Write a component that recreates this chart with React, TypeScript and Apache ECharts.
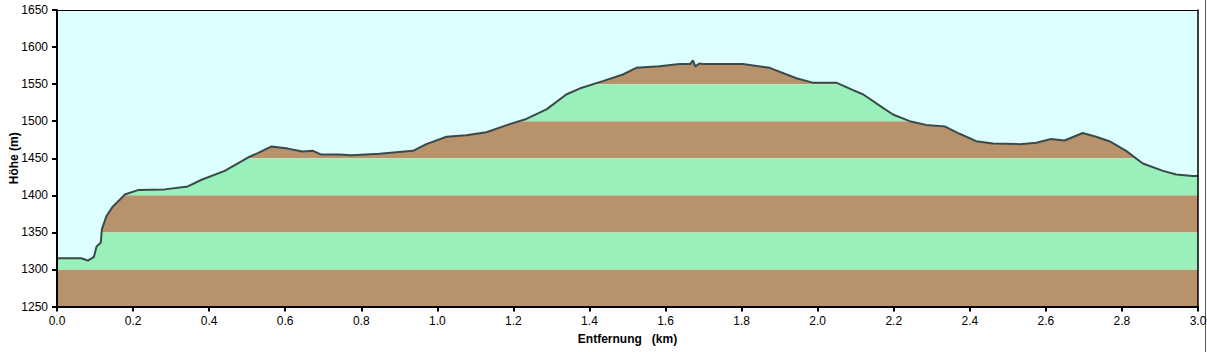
import React, { useEffect, useRef } from "react";
import * as echarts from "echarts";

// Distance (km) and elevation (m) read from the profile
const distanceKm = [
  0.0, 0.064, 0.081, 0.097, 0.104, 0.115, 0.118, 0.13, 0.147, 0.165, 0.178, 0.213, 0.283, 0.344, 0.38,
  0.441, 0.502, 0.528, 0.564, 0.607, 0.645, 0.673, 0.695, 0.743, 0.774, 0.848, 0.936, 0.971, 1.024,
  1.076, 1.129, 1.19, 1.234, 1.287, 1.339, 1.374, 1.435, 1.488, 1.523, 1.584, 1.637, 1.665, 1.672,
  1.678, 1.69, 1.698, 1.803, 1.874, 1.944, 1.987, 2.049, 2.093, 2.12, 2.163, 2.198, 2.242, 2.285,
  2.334, 2.373, 2.417, 2.461, 2.531, 2.575, 2.614, 2.649, 2.697, 2.732, 2.767, 2.811, 2.855, 2.908,
  2.943, 2.986, 3.0,
];
const elevationM = [
  1315, 1315, 1312, 1317, 1331, 1336, 1354, 1372, 1385, 1394, 1401, 1407, 1408, 1412, 1421,
  1433, 1451, 1457, 1466, 1463, 1459, 1460, 1455, 1455, 1454, 1456, 1460, 1469, 1479,
  1481, 1485, 1496, 1503, 1516, 1536, 1544, 1554, 1563, 1572, 1574, 1577, 1577, 1582,
  1574, 1578, 1577, 1577, 1572, 1558, 1552, 1552, 1542, 1536, 1521, 1509, 1500, 1495,
  1493, 1483, 1473, 1470, 1469, 1471, 1476, 1474, 1484, 1479, 1473, 1460, 1443, 1433,
  1428, 1426, 1426,
];

// Horizontal elevation bands [from, to]
const brownBands = [
  [1250, 1300],
  [1350, 1400],
  [1450, 1500],
  [1550, 1600],
];
const greenBands = [
  [1300, 1350],
  [1400, 1450],
  [1500, 1550],
  [1600, 1650],
];

const yTicks = [1250, 1300, 1350, 1400, 1450, 1500, 1550, 1600, 1650];
const xTicks = [0, 0.2, 0.4, 0.6, 0.8, 1.0, 1.2, 1.4, 1.6, 1.8, 2.0, 2.2, 2.4, 2.6, 2.8, 3.0];

const BROWN = "#B8926A";
const GREEN = "#9AF0BA";
const SKY = "#DDFFFF";
const LINE = "#3A4A4A";
const FONT = "'Liberation Sans', Arial, sans-serif";

export default function App() {
  const ref = useRef<HTMLDivElement>(null);

  useEffect(() => {
    if (!ref.current) return;
    const chart = echarts.init(ref.current, undefined, { renderer: "svg" });
    const profile = distanceKm.map((d, i) => [d, elevationM[i]]);
    const bandAreas = [
      ...brownBands.map((b) => [{ yAxis: b[0], itemStyle: { color: BROWN } }, { yAxis: b[1] }]),
      ...greenBands.map((b) => [{ yAxis: b[0], itemStyle: { color: GREEN } }, { yAxis: b[1] }]),
    ];
    chart.setOption({
      animation: false,
      backgroundColor: "#ffffff",
      textStyle: { fontFamily: FONT },
      grid: { left: 57, right: 9, top: 10, bottom: 45.5, containLabel: false, outerBoundsMode: "none" },
      xAxis: [
        {
          type: "value",
          min: 0,
          max: 3,
          interval: 0.2,
          z: 10,
          name: "Entfernung   (km)",
          nameLocation: "middle",
          nameGap: 26,
          nameMoveOverlap: false,
          nameTextStyle: { fontFamily: FONT, fontSize: 12, fontWeight: "bold", color: "#000" },
          axisLine: { show: true, onZero: false, lineStyle: { color: "#000", width: 2 } },
          axisTick: { show: true, length: 5, lineStyle: { color: "#000", width: 2 } },
          axisLabel: {
            show: true,
            margin: 8,
            color: "#000",
            fontSize: 12,
            fontFamily: FONT,
            formatter: (v: number) => v.toFixed(1),
            customValues: xTicks,
          },
          splitLine: { show: false },
        },
        {
          type: "value",
          position: "top",
          min: 0,
          max: 3,
          z: 10,
          axisLine: { show: true, onZero: false, lineStyle: { color: "#000", width: 1 } },
          axisTick: { show: false },
          axisLabel: { show: false },
          splitLine: { show: false },
        },
      ],
      yAxis: [
        {
          type: "value",
          min: 1250,
          max: 1650,
          interval: 50,
          z: 10,
          name: "Höhe (m)",
          nameLocation: "middle",
          nameGap: 37,
          nameMoveOverlap: false,
          nameTextStyle: { fontFamily: FONT, fontSize: 12, fontWeight: "bold", color: "#000" },
          axisLine: { show: true, onZero: false, lineStyle: { color: "#000", width: 2 } },
          axisTick: { show: true, length: 5, lineStyle: { color: "#000", width: 2 } },
          axisLabel: {
            show: true,
            margin: 9,
            color: "#000",
            fontSize: 12,
            fontFamily: FONT,
            formatter: (v: number) => String(v),
            customValues: yTicks,
          },
          splitLine: { show: false },
        },
        {
          type: "value",
          position: "right",
          min: 1250,
          max: 1650,
          z: 10,
          axisLine: { show: true, onZero: false, lineStyle: { color: "#000", width: 1.5 } },
          axisTick: { show: false },
          axisLabel: { show: false },
          splitLine: { show: false },
        },
      ],
      series: [
        {
          name: "Bänder",
          type: "line",
          z: 1,
          silent: true,
          data: profile,
          showSymbol: false,
          lineStyle: { opacity: 0, width: 0 },
          markArea: { silent: true, data: bandAreas },
        },
        {
          name: "Höhe",
          type: "line",
          z: 3,
          silent: true,
          data: profile,
          showSymbol: false,
          symbol: "none",
          lineStyle: { color: LINE, width: 2 },
          areaStyle: { color: SKY, opacity: 1, origin: "end" },
        },
      ],
      graphic: [
        {
          type: "line",
          shape: { x1: 1205.5, y1: 0, x2: 1205.5, y2: 352 },
          style: { stroke: "#555", lineWidth: 1 },
          silent: true,
        },
      ],
    });
    return () => chart.dispose();
  }, []);

  return <div ref={ref} style={{ position: "fixed", left: 0, top: 0, width: 1207, height: 352 }} />;
}
